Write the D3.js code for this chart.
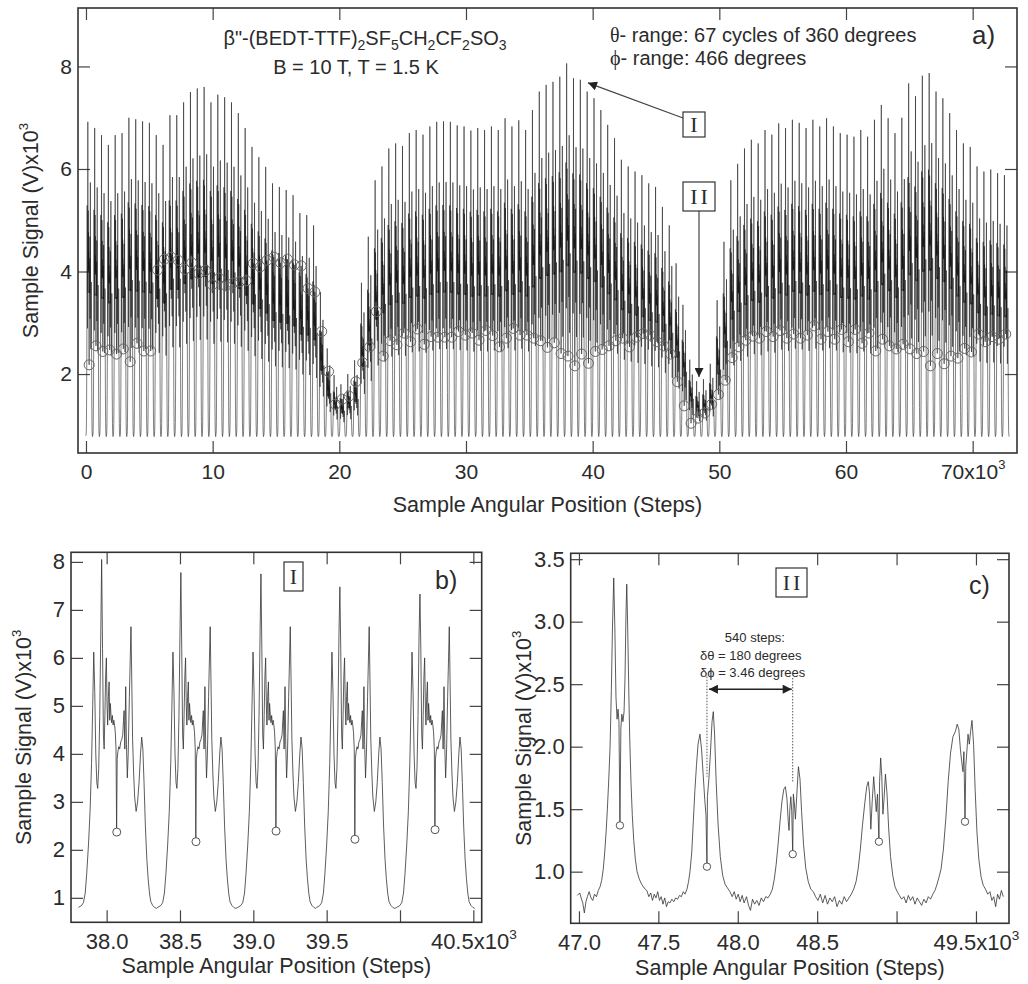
<!DOCTYPE html>
<html>
<head>
<meta charset="utf-8">
<script src="https://cdn.jsdelivr.net/npm/d3@7"></script>
<style>
  body { margin: 0; background: #fff; }
  svg text { font-family: "Liberation Sans", Arial, sans-serif; fill: #2b2b2b; }
  .serif { font-family: "Liberation Serif", "Times New Roman", serif !important; }
</style>
</head>
<body>
<svg id="fig" width="1028" height="984"></svg>
<script>
// ---------------- data ----------------
// panel a: one peak cluster every half turn of theta (540 steps)
const aFirstCentre = 250;
const aCentreStep = 540;
const aPeaks = [
  6.92, 6.80, 6.66, 6.47, 6.66, 6.70, 7.00, 6.97, 6.93, 6.90,
  6.66, 6.47, 7.05, 7.05, 7.30, 7.50, 7.57, 7.60, 7.30, 7.45,
  7.40, 7.30, 7.09, 6.80, 6.43, 6.23, 6.04, 5.72, 5.65, 5.59,
  5.49, 5.14, 5.10, 4.90, 3.60, 2.50, 1.98, 1.80, 2.00, 2.27,
  3.78, 4.68, 5.78, 6.05, 6.40, 6.50, 6.45, 6.70, 6.76, 6.67,
  6.83, 6.92, 6.93, 6.92, 6.85, 6.83, 6.75, 6.80, 6.76, 6.83,
  6.76, 6.99, 6.83, 6.95, 6.76, 7.15, 7.51, 7.64, 7.70, 7.80,
  8.06, 7.77, 7.74, 7.51, 7.38, 7.15, 6.86, 6.60, 6.18, 6.05,
  5.95, 5.88, 5.72, 5.65, 5.26, 4.90, 4.16, 3.35, 2.28, 1.86,
  1.90, 2.20, 3.44, 4.58, 5.78, 6.10, 6.40, 6.57, 6.50, 6.76,
  6.67, 6.89, 6.80, 6.96, 6.90, 6.80, 6.96, 6.83, 6.99, 6.83,
  6.70, 6.67, 6.63, 6.76, 6.63, 6.96, 7.25, 6.99, 6.70, 7.00,
  7.67, 7.42, 7.82, 7.87, 7.51, 7.38, 7.09, 6.76, 6.50, 6.43,
  6.05, 5.95, 5.99, 5.92, 5.88
];
const aDips = [
  2.18, 2.55, 2.44, 2.47, 2.39, 2.49, 2.24, 2.60, 2.45, 2.45,
  4.03, 4.24, 4.28, 4.22, 4.04, 4.17, 3.96, 4.02, 3.74, 3.87,
  3.72, 3.77, 3.80, 3.82, 4.16, 4.09, 4.22, 4.28, 4.17, 4.24,
  4.13, 4.11, 3.67, 3.60, 2.83, 2.05, 1.41, 1.51, 1.57, 1.85,
  2.22, 2.53, 3.22, 2.35, 2.65, 2.57, 2.80, 2.63, 2.88, 2.58,
  2.73, 2.72, 2.72, 2.72, 2.83, 2.76, 2.80, 2.66, 2.85, 2.75,
  2.53, 2.70, 2.89, 2.76, 2.76, 2.70, 2.65, 2.52, 2.61, 2.40,
  2.35, 2.16, 2.39, 2.21, 2.44, 2.48, 2.55, 2.65, 2.70, 2.53,
  2.72, 2.79, 2.76, 2.63, 2.55, 2.39, 1.85, 1.38, 1.04, 1.14,
  1.24, 1.41, 1.60, 1.88, 2.32, 2.53, 2.66, 2.74, 2.70, 2.83,
  2.73, 2.85, 2.70, 2.78, 2.70, 2.76, 2.94, 2.68, 2.83, 2.68,
  2.87, 2.63, 2.87, 2.60, 2.80, 2.45, 2.68, 2.55, 2.49, 2.58,
  2.49, 2.40, 2.44, 2.16, 2.40, 2.20, 2.35, 2.31, 2.50, 2.43,
  2.78, 2.63, 2.73, 2.68, 2.78
];

// shape of one cluster (offset from the dip, signal)
const shapeOffset = [-261,-240,-227,-215,-205,-193,-182,-172,-164,-157,
  -150,-143,-136,-130,-123,-116,-109,-103,-97,-91,
  -86,-81,-76,-71,-66,-62,-57,-52,-48,-44,
  -39,-35,-30,-25,-20,-15,-10,-5,-1,3,
  8,14,20,27,34,41,46,50,55,61,
  66,72,78,86,92,97,102,108,115,122,
  132,142,152,162,170,178,186,195,205,214,
  223,232,245,258,270];
const shapeValue = [0.80,0.84,0.90,1.10,1.50,2.10,2.80,3.80,5.00,6.12,
  5.30,4.00,3.40,3.28,3.70,4.80,6.50,8.05,6.20,4.40,
  4.10,4.80,5.60,6.00,5.00,4.60,5.20,5.50,4.70,5.05,
  4.80,4.65,4.80,4.60,4.70,4.60,4.45,4.10,2.37,3.90,
  4.05,4.15,4.10,4.25,4.30,4.40,4.70,4.90,4.10,5.40,
  4.20,3.50,4.00,5.20,6.00,6.65,5.60,4.30,3.60,3.10,
  2.80,3.00,3.40,4.00,4.35,4.10,3.40,2.50,1.80,1.40,
  1.10,0.92,0.84,0.80,0.78];
const shapeBase = 0.78;

// panel b
const bCentres = [38069, 38609, 39155, 39693, 40239];
const bPeaks = [8.05, 7.78, 7.75, 7.48, 7.33];
const bDips = [2.37, 2.17, 2.39, 2.22, 2.42];

// panel c
const cTrace = [
  [46990,0.81],[47005,0.83],[47016,0.78],[47024,0.75],[47034,0.67],[47044,0.76],[47053,0.80],[47064,0.84],
  [47076,0.79],[47087,0.77],[47098,0.82],[47110,0.80],[47122,0.85],[47133,0.88],[47143,0.93],[47153,1.02],
  [47162,1.15],[47171,1.32],[47179,1.50],[47188,1.75],[47196,2.00],[47204,2.45],[47211,2.95],[47219,3.35],
  [47226,2.95],[47233,2.40],[47240,2.22],[47246,2.30],[47252,2.20],[47258,1.37],[47264,2.15],[47270,2.26],
  [47277,2.20],[47284,2.28],[47290,2.55],[47296,3.05],[47301,3.30],[47307,2.95],[47313,2.50],[47320,2.05],
  [47328,1.70],[47336,1.45],[47345,1.25],[47355,1.10],[47366,1.00],[47380,0.94],[47395,0.90],[47410,0.87],
  [47427,0.85],[47440,0.80],[47452,0.83],[47463,0.77],[47474,0.82],[47485,0.79],[47496,0.84],[47507,0.77],
  [47518,0.80],[47529,0.74],[47540,0.79],[47551,0.72],[47562,0.76],[47573,0.75],[47585,0.78],[47597,0.76],
  [47609,0.79],[47621,0.78],[47633,0.81],[47645,0.80],[47657,0.84],[47668,0.82],[47680,0.86],[47690,0.92],
  [47699,1.00],[47710,1.15],[47720,1.40],[47730,1.65],[47740,1.85],[47750,2.02],[47762,2.10],[47772,1.98],
  [47782,1.78],[47792,1.58],[47800,1.45],[47806,1.04],[47809,1.60],[47818,1.74],[47828,1.95],[47838,2.20],
  [47846,2.28],[47854,2.10],[47864,1.72],[47876,1.38],[47890,1.12],[47905,0.97],[47920,0.90],[47935,0.87],
  [47951,0.84],[47965,0.80],[47978,0.84],[47990,0.78],[48003,0.82],[48015,0.76],[48028,0.81],[48040,0.75],
  [48055,0.80],[48068,0.73],[48080,0.69],[48093,0.78],[48106,0.74],[48120,0.77],[48134,0.73],[48148,0.79],
  [48162,0.76],[48176,0.80],[48190,0.79],[48205,0.82],[48218,0.86],[48230,0.94],[48242,1.06],[48254,1.22],
  [48266,1.40],[48278,1.56],[48290,1.66],[48300,1.68],[48310,1.58],[48318,1.40],[48323,1.33],[48328,1.50],
  [48334,1.60],[48340,1.48],[48346,1.14],[48350,1.62],[48356,1.55],[48363,1.42],[48372,1.62],[48382,1.84],
  [48392,1.74],[48402,1.48],[48414,1.22],[48428,1.03],[48444,0.92],[48460,0.86],[48476,0.84],[48490,0.80],
  [48505,0.77],[48520,0.82],[48535,0.75],[48550,0.81],[48565,0.74],[48580,0.79],[48595,0.76],[48610,0.80],
  [48625,0.72],[48640,0.77],[48655,0.74],[48670,0.80],[48685,0.76],[48700,0.79],[48715,0.82],[48730,0.86],
  [48745,0.92],[48758,1.02],[48772,1.18],[48786,1.38],[48800,1.55],[48812,1.68],[48822,1.72],[48830,1.62],
  [48838,1.34],[48846,1.55],[48856,1.76],[48864,1.62],[48872,1.48],[48880,1.62],[48889,1.24],[48893,1.72],
  [48900,1.91],[48907,1.76],[48914,1.46],[48921,1.58],[48930,1.78],[48940,1.62],[48950,1.35],[48962,1.12],
  [48976,0.97],[48990,0.88],[49004,0.84],[49018,0.81],[49032,0.78],[49046,0.80],[49060,0.75],[49074,0.81],
  [49088,0.77],[49102,0.80],[49116,0.74],[49130,0.79],[49144,0.76],[49158,0.73],[49172,0.78],[49186,0.75],
  [49200,0.80],[49214,0.78],[49228,0.82],[49242,0.85],[49255,0.90],[49268,0.96],[49280,1.02],[49295,1.18],
  [49310,1.42],[49325,1.72],[49340,1.95],[49355,2.08],[49370,2.12],[49382,2.18],[49392,2.14],[49402,1.98],
  [49410,1.88],[49418,1.80],[49424,1.96],[49431,1.40],[49436,1.85],[49442,1.95],[49450,2.10],[49458,2.02],
  [49466,2.12],[49475,2.21],[49485,2.02],[49495,1.65],[49506,1.32],[49518,1.10],[49532,0.96],[49546,0.89],
  [49560,0.86],[49574,0.82],[49588,0.84],[49600,0.77],[49612,0.80],[49624,0.72],[49636,0.82],[49648,0.78],
  [49660,0.85],[49672,0.80]
];
const cDipSteps = [47258, 47806, 48346, 48889, 49431];
const cDipValues = [1.37, 1.04, 1.14, 1.24, 1.40];

const aTicksX = [0, 10000, 20000, 30000, 40000, 50000, 60000, 70000];
const aTicksY = [2, 4, 6, 8];
const bTicksX = [38000, 38500, 39000, 39500, 40000, 40500];
const bTicksY = [1, 2, 3, 4, 5, 6, 7, 8];
const cTicksX = [47000, 47500, 48000, 48500, 49000, 49500];
const cTicksY = [1.0, 1.5, 2.0, 2.5, 3.0, 3.5];

// ---------------- drawing ----------------
const svg = d3.select("#fig");

const defs = svg.append("defs");
defs.append("marker").attr("id", "head").attr("viewBox", "0 0 10 10")
  .attr("refX", 10).attr("refY", 5).attr("markerWidth", 14).attr("markerHeight", 9)
  .attr("markerUnits", "userSpaceOnUse").attr("orient", "auto-start-reverse")
  .append("path").attr("d", "M0,0L10,5L0,10Z").attr("fill", "#222");

const mainIdx = d3.maxIndex(shapeValue);
const dipIdx = shapeOffset.indexOf(-1);

function cluster(centre, peak, dip, scaled) {
  const s = scaled ? (peak - shapeBase) / (shapeValue[mainIdx] - shapeBase) : 1;
  return shapeOffset.map((o, i) => {
    let v = shapeBase + (shapeValue[i] - shapeBase) * s;
    if (i === mainIdx) v = peak;
    if (i === dipIdx) v = dip;
    return [centre + o, v];
  });
}

function supText(sel, base, sup) {
  sel.text(base);
  sel.append("tspan").attr("dy", "-0.75em").attr("font-size", "0.62em").text(sup);
}

function panel(id, x, y, ticksX, ticksY, fmtX, fmtY, expTick, fontPx) {
  const [x0, x1] = x.range(), [y0, y1] = y.range();
  const g = svg.append("g").attr("id", id);
  defs.append("clipPath").attr("id", "clip-" + id).append("rect")
    .attr("x", x0).attr("y", y1).attr("width", x1 - x0).attr("height", y0 - y1);

  const bottom = g.append("g").attr("transform", `translate(0,${y0})`)
    .call(d3.axisBottom(x).tickValues(ticksX).tickSize(-12).tickPadding(11).tickFormat(fmtX));
  g.append("g").attr("transform", `translate(0,${y1})`)
    .call(d3.axisTop(x).tickValues(ticksX).tickSize(-12).tickFormat(""));
  g.append("g").attr("transform", `translate(${x0},0)`)
    .call(d3.axisLeft(y).tickValues(ticksY).tickSize(-12).tickPadding(6).tickFormat(fmtY));
  g.append("g").attr("transform", `translate(${x1},0)`)
    .call(d3.axisRight(y).tickValues(ticksY).tickSize(-12).tickFormat(""));
  g.selectAll(".domain").remove();
  g.selectAll(".tick line").attr("stroke", "#444").attr("stroke-width", 1.2);
  g.selectAll(".tick text").style("font-size", fontPx + "px");
  bottom.selectAll(".tick text").filter(d => d === expTick)
    .each(function(d) { supText(d3.select(this), fmtX(d), "3"); });

  g.append("rect").attr("x", x0).attr("y", y1).attr("width", x1 - x0).attr("height", y0 - y1)
    .attr("fill", "none").attr("stroke", "#333").attr("stroke-width", 1.6);
  return g;
}

function titles(x, y, ty) {
  const [x0, x1] = x.range(), [y0, y1] = y.range();
  svg.append("text").attr("x", (x0 + x1) / 2).attr("y", ty).attr("text-anchor", "middle")
    .style("font-size", "21.5px").text("Sample Angular Position (Steps)");
  const t = svg.append("text").attr("text-anchor", "middle").style("font-size", "21.5px")
    .attr("transform", `translate(${x0 - 40},${(y0 + y1) / 2}) rotate(-90)`);
  supText(t, "Sample Signal (V)x10", "3");
}

// ---- panel a ----
const xa = d3.scaleLinear().domain([-630, 73500]).range([78, 1017]);
const ya = d3.scaleLinear().domain([0.46, 9.14]).range([453, 8]);
const ga = panel("a", xa, ya, aTicksX, aTicksY,
  d => d === 70000 ? "70x10" : String(d / 1000), d => String(d), 70000, 21);

const aTrace = [];
aPeaks.forEach((p, k) => aTrace.push(...cluster(aFirstCentre + k * aCentreStep, p, aDips[k], true)));
const lineA = d3.line().x(d => xa(d[0])).y(d => ya(d[1]));
ga.append("path").datum(aTrace).attr("d", lineA).attr("clip-path", "url(#clip-a)")
  .attr("fill", "none").attr("stroke", "#161616").attr("stroke-width", 0.55);
ga.append("g").selectAll("circle").data(aDips).join("circle")
  .attr("cx", (d, k) => xa(aFirstCentre + k * aCentreStep)).attr("cy", d => ya(d))
  .attr("r", 5).attr("fill", "none").attr("stroke", "#666").attr("stroke-width", 1);
titles(xa, ya, 512);

// annotations a
const fa = svg.append("text").attr("x", 365).attr("y", 45).attr("text-anchor", "middle").style("font-size", "20px");
[["β\"-(BEDT-TTF)", 0], ["2", 1], ["SF", 0], ["5", 1], ["CH", 0], ["2", 1], ["CF", 0], ["2", 1], ["SO", 0], ["3", 1]]
  .forEach(([s, sub], i, arr) => {
    const prevSub = i > 0 && arr[i - 1][1];
    fa.append("tspan").attr("dy", sub && !prevSub ? 5 : (!sub && prevSub ? -5 : 0))
      .style("font-size", sub ? "14px" : null).text(s);
  });
svg.append("text").attr("x", 356).attr("y", 74).attr("text-anchor", "middle").style("font-size", "20px")
  .text("B = 10 T, T = 1.5 K");
const r1 = svg.append("text").attr("x", 610).attr("y", 42).style("font-size", "20px");
r1.append("tspan").attr("class", "serif").text("θ");
r1.append("tspan").text("- range: 67 cycles of 360 degrees");
const r2 = svg.append("text").attr("x", 610).attr("y", 65).style("font-size", "20px");
r2.append("tspan").attr("class", "serif").text("ϕ");
r2.append("tspan").text("- range: 466 degrees");
svg.append("text").attr("x", 972).attr("y", 44).style("font-size", "26px").text("a)");

function box(cx, cy, w, h, label, spacing) {
  svg.append("rect").attr("x", cx - w / 2).attr("y", cy - h / 2).attr("width", w).attr("height", h)
    .attr("fill", "#fff").attr("stroke", "#333").attr("stroke-width", 1.2);
  svg.append("text").attr("class", "serif").attr("x", cx + spacing / 2).attr("y", cy + 7.5)
    .attr("text-anchor", "middle").style("font-size", "22px").style("letter-spacing", spacing + "px")
    .text(label);
}
svg.append("line").attr("x1", 683).attr("y1", 118).attr("x2", xa(39630)).attr("y2", ya(7.68))
  .attr("stroke", "#444").attr("stroke-width", 1.2).attr("marker-end", "url(#head)");
box(694, 124.5, 22, 25, "I", 0);
svg.append("line").attr("x1", 699).attr("y1", 211).attr("x2", 699).attr("y2", ya(1.94))
  .attr("stroke", "#444").attr("stroke-width", 1.2).attr("marker-end", "url(#head)");
box(699, 196.5, 32, 29, "II", 3);

// ---- panel b ----
const xb = d3.scaleLinear().domain([37757, 40557]).range([71, 481.7]);
const yb = d3.scaleLinear().domain([0.49, 8.2]).range([922.3, 552.3]);
const gb = panel("b", xb, yb, bTicksX, bTicksY,
  d => d === 40000 ? "" : d === 40500 ? "40.5x10" : (d / 1000).toFixed(1), d => String(d), 40500, 22);
const bTrace = [];
bCentres.forEach((c, i) => bTrace.push(...cluster(c, bPeaks[i], bDips[i], false)));
gb.append("path").datum(bTrace).attr("clip-path", "url(#clip-b)")
  .attr("d", d3.line().x(d => xb(d[0])).y(d => yb(d[1])))
  .attr("fill", "none").attr("stroke", "#333").attr("stroke-width", 0.8);
gb.append("g").selectAll("circle").data(bDips).join("circle")
  .attr("cx", (d, i) => xb(bCentres[i])).attr("cy", d => yb(d))
  .attr("r", 4).attr("fill", "#fff").attr("stroke", "#555");
titles(xb, yb, 973);
box(293.5, 576.5, 19, 29, "I", 0);
svg.append("text").attr("x", 435).attr("y", 589).style("font-size", "25px").text("b)");

// ---- panel c ----
const xc = d3.scaleLinear().domain([46948, 49708]).range([570.7, 1009]);
const yc = d3.scaleLinear().domain([0.587, 3.547]).range([923.3, 553.3]);
const gc = panel("c", xc, yc, cTicksX, cTicksY,
  d => d === 49000 ? "" : d === 49500 ? "49.5x10" : (d / 1000).toFixed(1), d => d.toFixed(1), 49500, 22);
gc.append("path").datum(cTrace).attr("clip-path", "url(#clip-c)")
  .attr("d", d3.line().x(d => xc(d[0])).y(d => yc(d[1])))
  .attr("fill", "none").attr("stroke", "#333").attr("stroke-width", 0.8);
gc.append("g").selectAll("circle").data(cDipValues).join("circle")
  .attr("cx", (d, i) => xc(cDipSteps[i])).attr("cy", d => yc(d))
  .attr("r", 3.7).attr("fill", "#fff").attr("stroke", "#555");
titles(xc, yc, 975);
box(791.5, 582.5, 31, 29, "II", 3);
svg.append("text").attr("x", 969).attr("y", 594).style("font-size", "25px").text("c)");

// 540-step marker
const mA = cDipSteps[1], mB = cDipSteps[2];
[[mA, 2.56, 1.76], [mB, 2.55, 1.71]].forEach(([s, v0, v1]) => {
  gc.append("line").attr("x1", xc(s)).attr("x2", xc(s)).attr("y1", yc(v0)).attr("y2", yc(v1))
    .attr("stroke", "#555").attr("stroke-width", 1).attr("stroke-dasharray", "1.5,1.5");
});
gc.append("line").attr("x1", xc(mA) + 2).attr("x2", xc(mB) - 1).attr("y1", yc(2.46)).attr("y2", yc(2.46))
  .attr("stroke", "#222").attr("stroke-width", 1.5)
  .attr("marker-start", "url(#head)").attr("marker-end", "url(#head)");
const mid = xc((mA + mB) / 2);
svg.append("text").attr("x", mid + 5).attr("y", 642).attr("text-anchor", "middle").style("font-size", "13px").text("540 steps:");
svg.append("text").attr("x", 700).attr("y", 660).style("font-size", "13px").text("δθ = 180 degrees");
svg.append("text").attr("x", 700).attr("y", 677).style("font-size", "13px").text("δϕ  = 3.46 degrees");
</script>
</body>
</html>
